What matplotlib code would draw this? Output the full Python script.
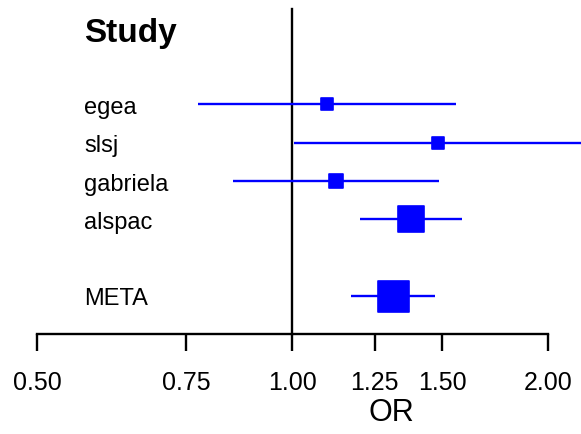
import matplotlib
matplotlib.use("Agg")
import matplotlib.pyplot as plt
from matplotlib.markers import MarkerStyle
from matplotlib.transforms import blended_transform_factory

plt.rcParams['font.family'] = ['Liberation Sans', 'DejaVu Sans']

# --- Study estimates (odds ratios with 95% CI) --- #
studies    = ['egea', 'slsj', 'gabriela', 'alspac']
or_est     = [1.098, 1.485, 1.126, 1.379]
ci_lo      = [0.774, 1.004, 0.852, 1.201]
ci_hi      = [1.557, 2.200, 1.489, 1.585]
box_weight = [1.2, 1.1, 1.4, 2.6]

meta_label  = 'META'
meta_or     = 1.312
meta_lo     = 1.173
meta_hi     = 1.471
meta_weight = 3.1

xticks      = [0.50, 0.75, 1.00, 1.25, 1.50, 2.00]
xtick_names = ['0.50', '0.75', '1.00', '1.25', '1.50', '2.00']

blue = '#0000FF'

fig = plt.figure(figsize=(5.81, 4.35), dpi=100)
ax = fig.add_axes([0, 100 / 435, 1, 335 / 435])
ax.set_xscale('log', base=2)
ax.set_xlim(0.4524, 2.187)
ax.set_ylim(8.0, -0.757)

# text column sits at a fixed axes-x, rows in data-y
label_tf = blended_transform_factory(ax.transAxes, ax.transData)
label_x  = 84 / 581

# row layout: header, gap, studies, gap, summary
study_rows = [2 + i for i in range(len(studies))]
meta_row   = study_rows[-1] + 2

box = MarkerStyle('s', joinstyle='round')

def draw_row(row, label, est, lo, hi, weight):
    ax.plot([lo, hi], [row, row], color=blue, lw=1.7, solid_capstyle='butt', zorder=2)
    ax.plot([est], [row], marker=box, color=blue, mec=blue, mew=1.2,
            ms=weight * 7.2, zorder=3)
    ax.text(label_x, row + 0.07, label, transform=label_tf,
            ha='left', va='center', fontsize=17)

for r, s, e, l, h, w in zip(study_rows, studies, or_est, ci_lo, ci_hi, box_weight):
    draw_row(r, s, e, l, h, w)
draw_row(meta_row, meta_label, meta_or, meta_lo, meta_hi, meta_weight)

ax.text(label_x, 0.12, 'Study', transform=label_tf,
        ha='left', va='center', fontsize=24, fontweight='bold')

# line of no effect
ax.plot([1, 1], [-0.5, 8.0], color='black', lw=1.7, zorder=1, clip_on=False)

for side in ['left', 'right', 'top']:
    ax.spines[side].set_visible(False)
ax.spines['bottom'].set_bounds(xticks[0], xticks[-1])
ax.spines['bottom'].set_linewidth(1.7)
ax.set_yticks([])
ax.set_xticks(xticks)
ax.set_xticklabels(xtick_names)
ax.xaxis.set_minor_locator(matplotlib.ticker.NullLocator())
ax.tick_params(axis='x', length=12, width=1.7, pad=14, labelsize=18)

fig.text(391 / 581, 1 - 413.5 / 435, 'OR', ha='center', va='center', fontsize=22)

fig.savefig('out.png', dpi=100)
